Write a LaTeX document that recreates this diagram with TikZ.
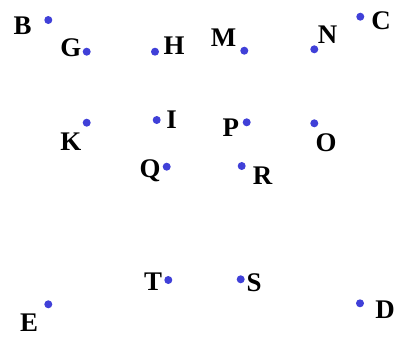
\documentclass[tikz,border=0pt]{standalone}
\usepackage{fontspec}
\setmainfont{Liberation Serif}
\definecolor{dotblue}{RGB}{64,64,216}
\tikzset{
  pt/.style={circle,fill=dotblue,inner sep=0pt,minimum size=8bp},
  lbl/.style={font=\fontsize{27}{27}\selectfont\bfseries,inner sep=0pt,text depth=0pt,anchor=center}
}
\begin{document}
\begin{tikzpicture}[x=1bp,y=-1bp]
\useasboundingbox (0,0) rectangle (396,339);
\node[pt] (B) at (48.3,20) {};
\node[pt] (G) at (86.7,51.7) {};
\node[pt] (H) at (155,51.7) {};
\node[pt] (M) at (244.3,50.7) {};
\node[pt] (N) at (314.3,49.3) {};
\node[pt] (C) at (360.3,16.7) {};
\node[pt] (K) at (86.7,122.7) {};
\node[pt] (I) at (156.7,120) {};
\node[pt] (P) at (246.7,122.3) {};
\node[pt] (O) at (314.3,123.3) {};
\node[pt] (Q) at (166.7,166.7) {};
\node[pt] (R) at (241.7,166) {};
\node[pt] (T) at (168.3,280) {};
\node[pt] (S) at (240.7,279.3) {};
\node[pt] (E) at (48.3,304.3) {};
\node[pt] (D) at (360,303.3) {};
\node[lbl] (lB) at (22.5,25.8) {B};
\node[lbl] (lG) at (70.8,47.5) {G};
\node[lbl] (lH) at (174,45.8) {H};
\node[lbl] (lM) at (223.5,37.5) {M};
\node[lbl] (lN) at (327.7,35) {N};
\node[lbl] (lC) at (381,21) {C};
\node[lbl] (lK) at (70.8,141.7) {K};
\node[lbl] (lI) at (171.7,120) {I};
\node[lbl] (lP) at (230.8,127.5) {P};
\node[lbl] (lO) at (326,142.5) {O};
\node[lbl] (lQ) at (150,169) {Q};
\node[lbl] (lR) at (262.5,176) {R};
\node[lbl] (lT) at (153,282) {T};
\node[lbl] (lS) at (254,283) {S};
\node[lbl] (lE) at (29,323) {E};
\node[lbl] (lD) at (385,310) {D};
\end{tikzpicture}
\end{document}
